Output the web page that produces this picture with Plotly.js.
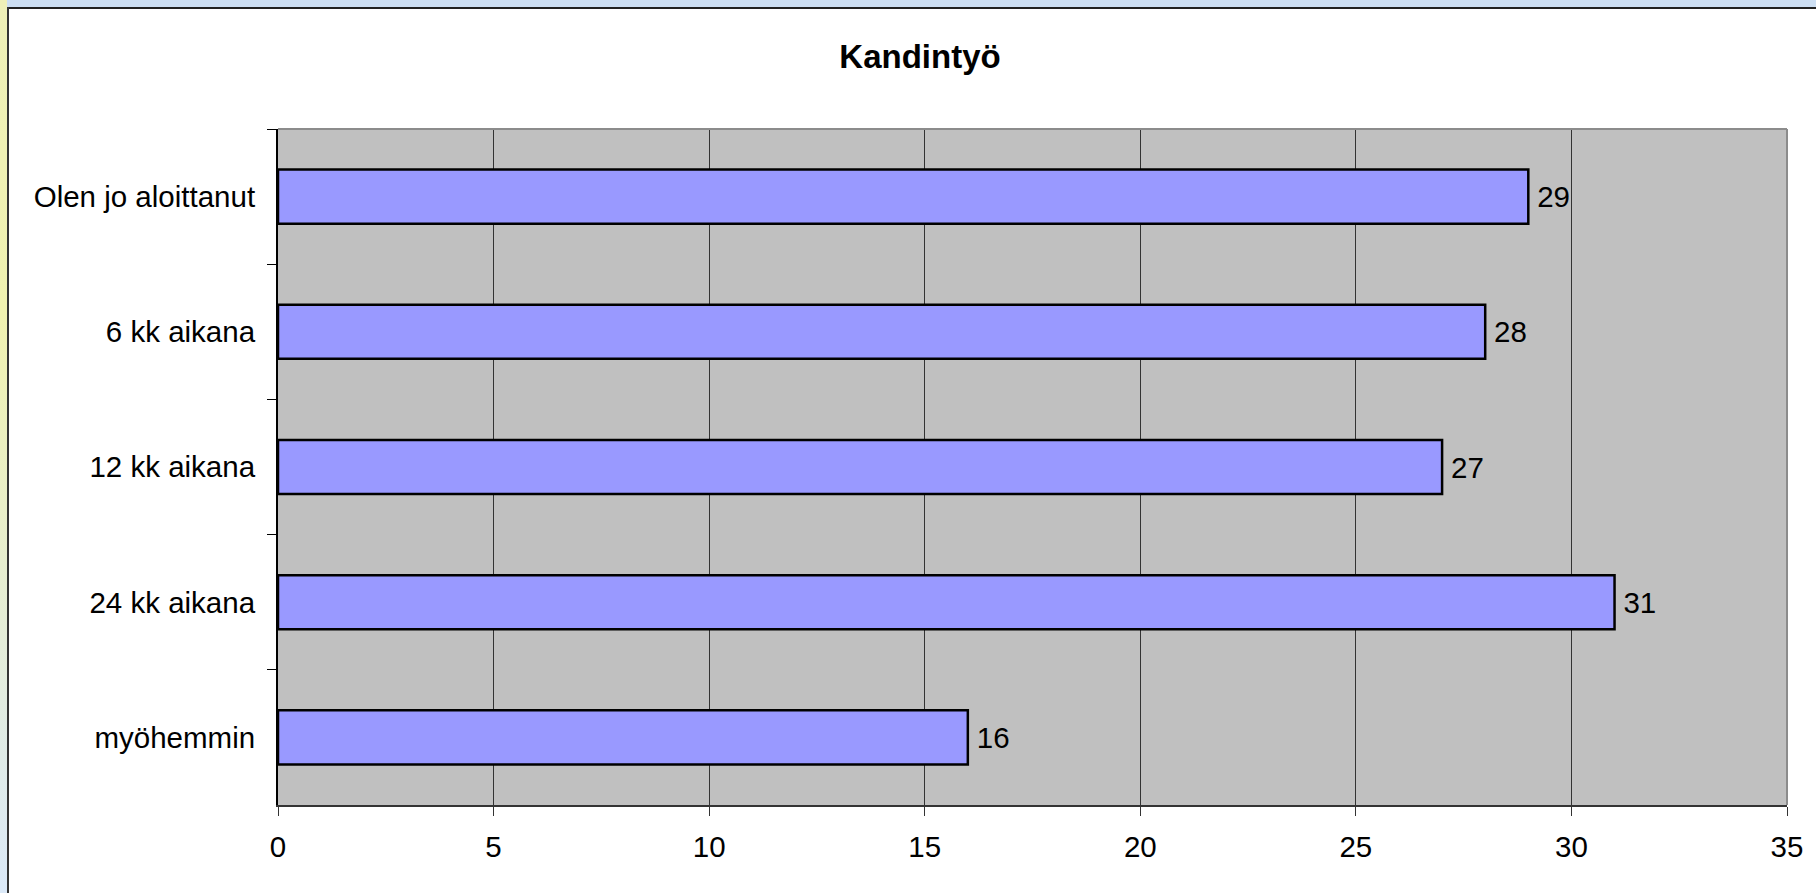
<!DOCTYPE html>
<html>
<head>
<meta charset="utf-8">
<script src="https://cdn.plot.ly/plotly-3.0.1.min.js"></script>
<style>
  html, body { margin: 0; padding: 0; background: #ffffff; overflow: hidden; }
  #chart { position: absolute; left: 0; top: 0; width: 1816px; height: 893px; }
  .deco { position: absolute; pointer-events: none; }
</style>
</head>
<body>
<div id="chart"></div>
<div class="deco" style="left:0;top:0;width:1816px;height:7px;background:#cddff3;"></div>
<div class="deco" style="left:0;top:7px;width:1816px;height:2px;background:#222222;"></div>
<div class="deco" style="left:0;top:0;width:7px;height:893px;background:linear-gradient(to bottom,#eef0b8 0%,#f0f2b0 35%,#dbe9f8 100%);"></div>
<div class="deco" style="left:7px;top:7px;width:2px;height:886px;background:#333333;"></div>
<script>
const categories = ["Olen jo aloittanut", "6 kk aikana", "12 kk aikana", "24 kk aikana", "myöhemmin"];
const values = [29, 28, 27, 31, 16];
const xTicks = [0, 5, 10, 15, 20, 25, 30, 35];
const chartTitle = "Kandintyö";

const font = "Liberation Sans, Arial, sans-serif";

const trace = {
  type: "bar",
  orientation: "h",
  x: values,
  y: categories,
  text: values.map(v => "\u2009" + v),
  textposition: "outside",
  cliponaxis: false,
  textfont: { family: font, size: 29.5, color: "#000000" },
  marker: { color: "#9999ff", line: { color: "#000000", width: 2.5 } },
  hoverinfo: "none"
};

const layout = {
  width: 1816,
  height: 893,
  margin: { l: 278, r: 29, t: 129, b: 88 },
  paper_bgcolor: "#ffffff",
  plot_bgcolor: "#c0c0c0",
  showlegend: false,
  bargap: 0.6,
  title: {
    text: "<b>" + chartTitle + "</b>",
    font: { family: font, size: 33, color: "#000000" },
    xref: "container", x: 920 / 1816, xanchor: "center",
    yref: "container", y: 1 - 56 / 893, yanchor: "middle"
  },
  xaxis: {
    range: [0, 35],
    tickvals: xTicks,
    ticktext: xTicks.map(String),
    showgrid: true,
    gridcolor: "#333333",
    gridwidth: 1,
    zeroline: false,
    showline: true,
    linecolor: "#333333",
    linewidth: 2,
    ticks: "outside",
    ticklen: 9,
    tickcolor: "#333333",
    tickwidth: 1,
    ticklabelstandoff: 6,
    tickfont: { family: font, size: 29.5, color: "#000000" },
    fixedrange: true
  },
  yaxis: {
    type: "category",
    autorange: "reversed",
    showgrid: false,
    zeroline: false,
    showline: true,
    linecolor: "#000000",
    linewidth: 2,
    ticks: "outside",
    tickson: "boundaries",
    ticklen: 9,
    tickcolor: "#000000",
    tickwidth: 1,
    ticklabelstandoff: 15,
    tickfont: { family: font, size: 29.5, color: "#000000" },
    fixedrange: true
  },
  shapes: [
    { type: "line", xref: "paper", yref: "paper", x0: 0, x1: 1, y0: 1, y1: 1, line: { color: "#8c8c8c", width: 2 } },
    { type: "line", xref: "paper", yref: "paper", x0: 1, x1: 1, y0: 0, y1: 1, line: { color: "#8c8c8c", width: 2 } }
  ]
};

Plotly.newPlot("chart", [trace], layout, { displayModeBar: false, staticPlot: true });
</script>
</body>
</html>
